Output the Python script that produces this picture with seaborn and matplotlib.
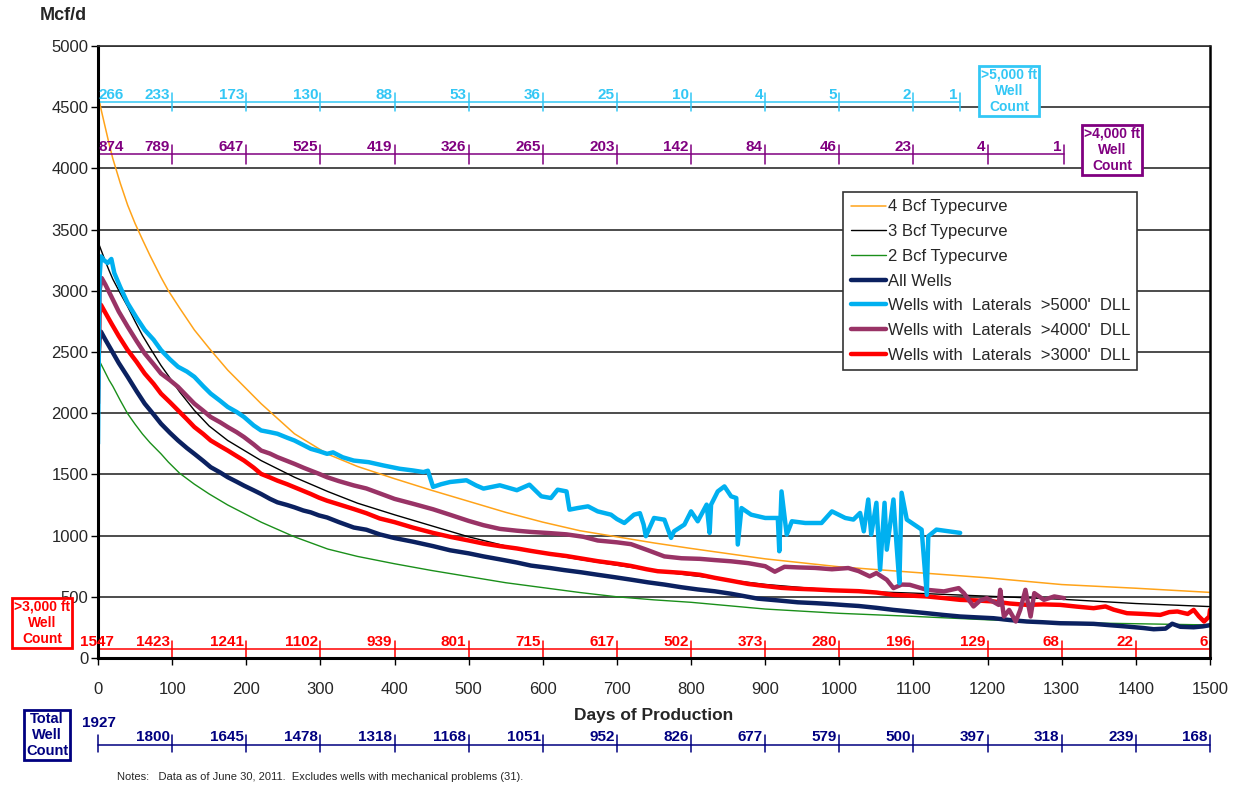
import numpy as np
import pandas as pd
import matplotlib
matplotlib.use("Agg")
import matplotlib.pyplot as plt
import matplotlib.transforms as mtransforms
from matplotlib.lines import Line2D
import seaborn as sns

sns.set_theme(style="white")
plt.rcParams['font.family'] = ['Liberation Sans', 'DejaVu Sans']

# Typecurves
tc_days = [0, 5, 10, 15, 20, 30, 40, 50, 60, 70, 85, 95, 110, 130, 150, 175, 220, 265, 310, 350, 400, 450,
           500, 550, 600, 650, 700, 750, 800, 900, 1000, 1100, 1200, 1300, 1400, 1500]
tc_4bcf = [4600, 4460, 4330, 4200, 4080, 3880, 3700, 3550, 3418, 3290, 3110, 3000, 2860, 2680, 2530, 2352,
           2078, 1832, 1665, 1565, 1465, 1370, 1280, 1190, 1110, 1040, 990, 940, 895, 810, 745, 700, 655,
           600, 570, 536]
tc_3bcf = [3400, 3320, 3240, 3165, 3095, 2980, 2871, 2750, 2635, 2535, 2390, 2305, 2175, 2023, 1895, 1777,
           1613, 1477, 1360, 1265, 1170, 1080, 990, 915, 855, 805, 758, 712, 675, 601, 550, 530, 505, 480,
           445, 420]
tc_2bcf = [2450, 2390, 2330, 2270, 2220, 2105, 1996, 1910, 1830, 1760, 1668, 1600, 1510, 1420, 1340, 1250,
           1110, 990, 890, 830, 770, 715, 665, 615, 575, 535, 500, 475, 455, 400, 365, 340, 312, 290, 280,
           270]

# All wells
all_days = [0, 2, 4, 10, 18, 28, 40, 52, 63, 75, 85, 97, 108, 120, 130, 142, 152, 165, 175, 187, 197, 210,
            220, 232, 242, 255, 265, 277, 287, 298, 309, 325, 345, 362, 380, 400, 425, 452, 475, 500, 520,
            542, 565, 584, 610, 629, 652, 674, 697, 719, 742, 764, 787, 809, 832, 854, 872, 890, 918, 944,
            968, 990, 1008, 1026, 1050, 1073, 1095, 1118, 1140, 1163, 1185, 1208, 1230, 1253, 1275, 1298,
            1320, 1343, 1365, 1388, 1410, 1424, 1440, 1449, 1460, 1478, 1490, 1500]
all_vals = [2350, 2600, 2666, 2600, 2516, 2410, 2297, 2180, 2078, 1990, 1914, 1840, 1777, 1715, 1668, 1610,
            1559, 1515, 1477, 1440, 1408, 1370, 1340, 1300, 1272, 1250, 1231, 1205, 1190, 1165, 1148, 1110,
            1066, 1048, 1010, 980, 950, 914, 880, 855, 830, 806, 780, 755, 735, 718, 700, 680, 660, 640, 618,
            600, 578, 560, 545, 525, 505, 485, 470, 455, 448, 440, 432, 425, 410, 393, 380, 366, 352, 339,
            332, 325, 310, 298, 292, 284, 282, 279, 268, 257, 245, 235, 240, 280, 255, 251, 258, 268]

# Laterals > 3000'
l3_days = [0, 2, 4, 10, 18, 28, 40, 52, 63, 75, 85, 97, 108, 120, 130, 142, 152, 165, 175, 187, 197, 210,
           220, 232, 242, 255, 265, 277, 287, 298, 309, 325, 345, 362, 380, 400, 425, 452, 475, 500, 520,
           542, 565, 584, 610, 632, 655, 674, 700, 719, 740, 755, 787, 812, 832, 855, 877, 900, 922, 945,
           967, 990, 1026, 1050, 1073, 1095, 1118, 1140, 1163, 1185, 1208, 1230, 1253, 1275, 1298, 1320,
           1343, 1359, 1370, 1388, 1410, 1433, 1445, 1456, 1470, 1478, 1485, 1492, 1499, 1500]
l3_vals = [2080, 2800, 2885, 2820, 2734, 2630, 2516, 2420, 2324, 2240, 2160, 2090, 2023, 1950, 1887, 1830,
           1777, 1730, 1695, 1650, 1613, 1555, 1504, 1475, 1449, 1420, 1395, 1365, 1340, 1310, 1285, 1255,
           1217, 1183, 1140, 1110, 1065, 1022, 990, 960, 935, 914, 895, 875, 850, 833, 810, 791, 770, 752,
           725, 709, 696, 680, 655, 630, 605, 588, 573, 565, 560, 553, 546, 535, 516, 510, 503, 490, 475,
           470, 462, 445, 434, 438, 434, 420, 407, 421, 395, 366, 360, 352, 375, 380, 360, 393, 340, 298,
           339, 393]

# Laterals > 4000'
l4_days = [0, 2, 5, 10, 18, 28, 40, 52, 63, 75, 85, 97, 108, 120, 130, 142, 152, 165, 175, 187, 197, 210,
           220, 232, 242, 255, 265, 277, 287, 298, 309, 325, 345, 362, 380, 400, 425, 452, 475, 500, 520,
           542, 565, 584, 610, 632, 655, 674, 700, 719, 742, 764, 787, 812, 832, 854, 877, 900, 913, 926,
           945, 967, 990, 1012, 1026, 1041, 1050, 1064, 1073, 1084, 1095, 1118, 1141, 1161, 1168, 1181,
           1190, 1199, 1215, 1217, 1222, 1229, 1238, 1244, 1251, 1258, 1263, 1276, 1290, 1303]
l4_vals = [2200, 3000, 3104, 3050, 2953, 2830, 2707, 2590, 2488, 2400, 2324, 2270, 2215, 2140, 2078, 2020,
           1969, 1925, 1887, 1845, 1805, 1745, 1695, 1670, 1641, 1610, 1586, 1555, 1531, 1505, 1477, 1445,
           1410, 1385, 1345, 1300, 1260, 1215, 1170, 1120, 1085, 1055, 1040, 1030, 1020, 1010, 990, 960,
           945, 930, 880, 830, 815, 810, 800, 790, 775, 750, 705, 745, 740, 736, 725, 735, 710, 667, 694,
           639, 571, 600, 598, 557, 544, 571, 530, 421, 470, 489, 434, 557, 339, 393, 298, 393, 557, 339,
           530, 475, 503, 489]

# Laterals > 5000'
l5_days = [0, 2, 4, 8, 13, 18, 22, 30, 40, 52, 63, 75, 85, 97, 108, 120, 130, 142, 152, 165, 175, 187, 197,
           210, 220, 232, 242, 255, 265, 277, 287, 298, 309, 317, 330, 345, 365, 385, 407, 425, 439, 445,
           452, 463, 475, 497, 510, 520, 542, 565, 582, 598, 611, 620, 632, 636, 647, 661, 674, 692, 700,
           710, 723, 731, 736, 739, 750, 764, 773, 777, 791, 800, 809, 821, 825, 827, 836, 845, 854, 861,
           863, 868, 881, 900, 917, 919, 922, 929, 936, 954, 976, 990, 1008, 1019, 1028, 1033, 1039, 1043,
           1050, 1055, 1061, 1064, 1073, 1077, 1081, 1084, 1091, 1111, 1118, 1120, 1131, 1163]
l5_vals = [1750, 3100, 3281, 3250, 3227, 3260, 3145, 3030, 2899, 2780, 2680, 2600, 2516, 2440, 2379, 2340,
           2297, 2220, 2160, 2100, 2051, 2010, 1969, 1900, 1859, 1845, 1832, 1800, 1777, 1740, 1709, 1690,
           1668, 1680, 1640, 1613, 1600, 1573, 1546, 1532, 1519, 1530, 1398, 1420, 1438, 1452, 1410, 1384,
           1411, 1371, 1416, 1321, 1307, 1375, 1361, 1212, 1225, 1239, 1198, 1171, 1135, 1103, 1171, 1183,
           1090, 995, 1144, 1130, 981, 1035, 1090, 1198, 1117, 1253, 1022, 1253, 1361, 1402, 1321, 1307,
           927, 1225, 1171, 1144, 1144, 872, 1361, 1008, 1117, 1103, 1103, 1198, 1144, 1131, 1185, 1035,
           1295, 1008, 1268, 721, 1268, 885, 1295, 940, 612, 1350, 1131, 1049, 516, 995, 1049, 1022]

# Well count rows
tick_days = list(range(100, 1600, 100))
count_5000 = [266, 233, 173, 130, 88, 53, 36, 25, 10, 4, 5, 2, 1]
count_4000 = [874, 789, 647, 525, 419, 326, 265, 203, 142, 84, 46, 23, 4, 1]
count_3000 = [1547, 1423, 1241, 1102, 939, 801, 715, 617, 502, 373, 280, 196, 129, 68, 22, 6]
count_total = [1927, 1800, 1645, 1478, 1318, 1168, 1051, 952, 826, 677, 579, 500, 397, 318, 239, 168]
end_5000 = 1163
end_4000 = 1303

C_NAVY = '#0B2160'
C_CYAN = '#00B0F0'
C_PURPLE = '#993366'
C_RED = '#FF0000'
C_ORANGE = '#FFA319'
C_GREEN = '#1A8F1A'
T_CYAN = '#33C7F5'
T_PURPLE = '#800080'
T_NAVY = '#000080'

W, H = 1237, 788
fig = plt.figure(figsize=(W / 100, H / 100), dpi=100)
ax = fig.add_axes([98 / W, 1 - 658 / H, (1210 - 98) / W, (658 - 46) / H])

def draw(days, vals, color, lw):
    df = pd.DataFrame({'day': days, 'q': vals})
    sns.lineplot(data=df, x='day', y='q', color=color, linewidth=lw, sort=False,
                 estimator=None, ax=ax)

draw(tc_days, tc_4bcf, C_ORANGE, 1.1)
draw(tc_days, tc_3bcf, 'black', 1.0)
draw(tc_days, tc_2bcf, C_GREEN, 1.0)
draw(all_days, all_vals, C_NAVY, 3.2)
draw(l3_days, l3_vals, C_RED, 3.2)
draw(l4_days, l4_vals, C_PURPLE, 3.2)
draw(l5_days, l5_vals, C_CYAN, 3.2)

ax.set_xlim(0, 1500)
ax.set_ylim(0, 5000)
ax.set_xticks(range(0, 1600, 100))
ax.set_yticks(range(0, 5500, 500))
ax.yaxis.grid(True, color='#2e2e2e', linewidth=1.2)
ax.xaxis.grid(False)
ax.set_axisbelow(True)
ax.tick_params(axis='both', labelsize=12, direction='out', length=5, width=1, color='black',
               bottom=True, left=True)
ax.tick_params(axis='x', pad=12)
ax.tick_params(axis='y', pad=2)
for s in ['left', 'bottom']:
    ax.spines[s].set_color('black')
    ax.spines[s].set_linewidth(2.2)
ax.spines['right'].set_color('black')
ax.spines['right'].set_linewidth(1.8)
ax.spines['top'].set_color('#2e2e2e')
ax.spines['top'].set_linewidth(1.2)
ax.set_xlabel('Days of Production', fontsize=12.5, fontweight='bold', labelpad=8)
ax.set_ylabel('')
fig.text(40 / W, 1 - 16 / H, 'Mcf/d', fontsize=13, fontweight='bold', va='center', ha='left')

# well count rows drawn inside the axes (data coordinates)
def count_row(counts, ends, y_line, tick_lo, tick_hi, color, first_x=1, transform=None):
    tr = transform if transform is not None else ax.transData
    ax.plot([0, ends[-1]], [y_line, y_line], color=color, lw=1.1, transform=tr, clip_on=False)
    for d in ends:
        ax.plot([d, d], [tick_lo, tick_hi], color=color, lw=1.1, transform=tr, clip_on=False)
    for i, c in enumerate(counts):
        if i == 0:
            ax.text(first_x, y_line, str(c), color=color, fontsize=11, fontweight='bold',
                    ha='left', va='bottom', transform=tr, clip_on=False)
        else:
            ax.text(ends[i - 1] - 3, y_line, str(c), color=color, fontsize=11, fontweight='bold',
                    ha='right', va='bottom', transform=tr, clip_on=False)

ends5 = tick_days[:11] + [end_5000]
count_row(count_5000, ends5, 4545, 4470, 4620, T_CYAN)
ends4 = tick_days[:12] + [end_4000]
count_row(count_4000, ends4, 4115, 4040, 4190, T_PURPLE)
count_row(count_3000, tick_days, 75, 0, 140, C_RED, first_x=-24)

# total well count below the axis
blend = mtransforms.blended_transform_factory(ax.transData, ax.transAxes)
y_tot = (658 - 745) / 612
ax.plot([0, 1500], [y_tot, y_tot], color=T_NAVY, lw=1.1, transform=blend, clip_on=False)
for d in [0] + tick_days:
    ax.plot([d, d], [y_tot - 0.012, y_tot + 0.016], color=T_NAVY, lw=1.1, transform=blend, clip_on=False)
ax.text(-22, (658 - 723) / 612, str(count_total[0]), color=T_NAVY, fontsize=11, fontweight='bold',
        ha='left', va='center', transform=blend, clip_on=False)
for i, c in enumerate(count_total[1:]):
    ax.text(tick_days[i] - 3, y_tot + 0.002, str(c), color=T_NAVY, fontsize=11, fontweight='bold',
            ha='right', va='bottom', transform=blend, clip_on=False)

# labelled boxes
def box(px, py, txt, color, size=10):
    fig.text(px / W, 1 - py / H, txt, color=color, fontsize=size, fontweight='bold', ha='center',
             va='center', linespacing=1.2,
             bbox=dict(boxstyle='square,pad=0.12', fc='white', ec=color, lw=2))

box(1009, 91, '>5,000 ft\nWell\nCount', T_CYAN)
box(1112, 150, '>4,000 ft\nWell\nCount', T_PURPLE)
box(42, 623, '>3,000 ft\nWell\nCount', C_RED)
box(47, 735, 'Total\nWell\nCount', T_NAVY, size=10.5)

fig.text(117 / W, 1 - 777 / H, 'Notes:   Data as of June 30, 2011.  Excludes wells with mechanical problems (31).',
         fontsize=8, va='center', ha='left')

handles = [Line2D([], [], color=C_ORANGE, lw=1.1), Line2D([], [], color='black', lw=1.0),
           Line2D([], [], color=C_GREEN, lw=1.0), Line2D([], [], color=C_NAVY, lw=3.2),
           Line2D([], [], color=C_CYAN, lw=3.2), Line2D([], [], color=C_PURPLE, lw=3.2),
           Line2D([], [], color=C_RED, lw=3.2)]
labels = ['4 Bcf Typecurve', '3 Bcf Typecurve', '2 Bcf Typecurve', 'All Wells',
          "Wells with  Laterals  >5000'  DLL", "Wells with  Laterals  >4000'  DLL",
          "Wells with  Laterals  >3000'  DLL"]
leg = ax.legend(handles, labels, loc='upper left', bbox_to_anchor=((843 - 98) / 1112, (658 - 192) / 612),
                fontsize=12, frameon=True, fancybox=False, edgecolor='#333333', framealpha=1,
                handlelength=2.1, handletextpad=0.12, labelspacing=0.58, borderpad=0.45,
                borderaxespad=0)
leg.get_frame().set_linewidth(1.2)

fig.savefig('out.png', dpi=100)
